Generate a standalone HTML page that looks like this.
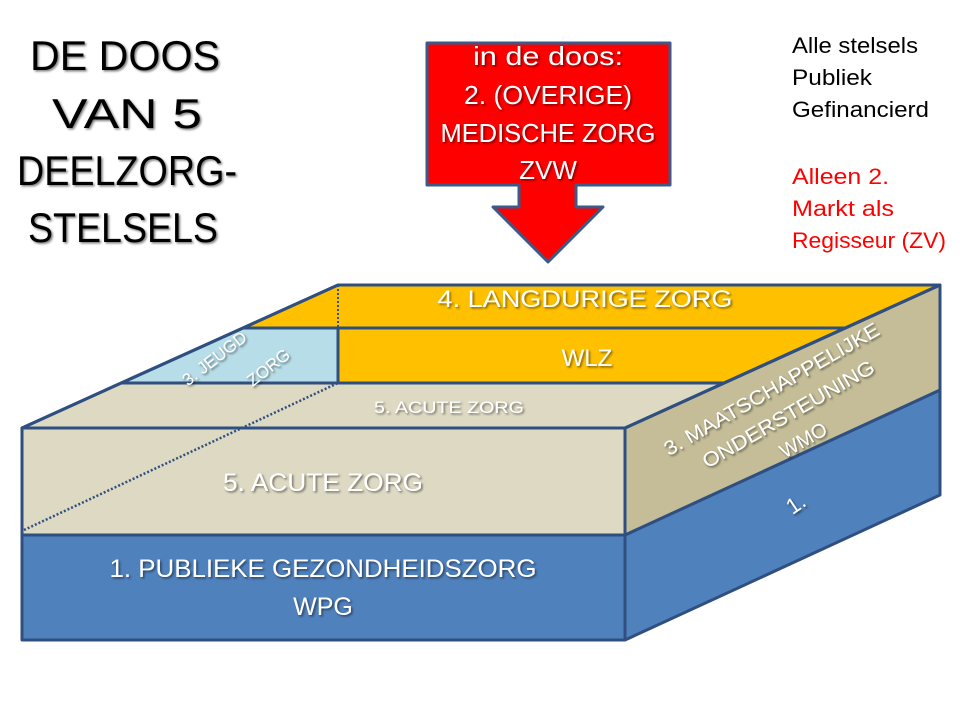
<!DOCTYPE html>
<html><head><meta charset="utf-8"><style>
html,body{margin:0;padding:0;background:#fff;}
svg{display:block;font-family:"Liberation Sans",sans-serif;}
.w{fill:#fff;filter:url(#sh);}
</style></head><body>
<svg width="960" height="720" viewBox="0 0 960 720" xmlns="http://www.w3.org/2000/svg">
<defs>
<filter id="sh" x="-10%" y="-10%" width="120%" height="130%"><feDropShadow dx="1.5" dy="1.5" stdDeviation="1" flood-color="#000" flood-opacity="0.5"/></filter>
</defs>
<g font-size="42" fill="#000" text-anchor="middle" filter="url(#sh)">
<text x="125" y="70" textLength="190" lengthAdjust="spacingAndGlyphs">DE DOOS</text>
<text x="127" y="128" textLength="150" lengthAdjust="spacingAndGlyphs">VAN  5</text>
<text x="127" y="185" textLength="220" lengthAdjust="spacingAndGlyphs">DEELZORG-</text>
<text x="123" y="242" textLength="190" lengthAdjust="spacingAndGlyphs">STELSELS</text>
</g>
<g font-size="22">
<text x="792" y="53" textLength="126" lengthAdjust="spacingAndGlyphs">Alle stelsels</text>
<text x="792" y="85" textLength="80" lengthAdjust="spacingAndGlyphs">Publiek</text>
<text x="792" y="117" textLength="137" lengthAdjust="spacingAndGlyphs">Gefinancierd</text>
<g fill="#f00">
<text x="792" y="184" textLength="97" lengthAdjust="spacingAndGlyphs">Alleen 2.</text>
<text x="792" y="216" textLength="102" lengthAdjust="spacingAndGlyphs">Markt als</text>
<text x="792" y="248" textLength="154" lengthAdjust="spacingAndGlyphs">Regisseur (ZV)</text>
</g></g>
<path d="M427,43 L670,43 L670,185 L576,185 L576,207 L603,207 L548,262 L493,207 L519,207 L519,185 L427,185 Z" fill="#f00" stroke="#3a5a8a" stroke-width="3" stroke-linejoin="round"/>
<g class="w" font-size="26" text-anchor="middle">
<text x="548" y="65" textLength="150" lengthAdjust="spacingAndGlyphs">in de doos:</text>
<text x="548" y="104" textLength="168" lengthAdjust="spacingAndGlyphs">2. (OVERIGE)</text>
<text x="548" y="142" textLength="215" lengthAdjust="spacingAndGlyphs">MEDISCHE ZORG</text>
<text x="548" y="179">ZVW</text>
</g>
<g stroke="#2f4f80" stroke-width="3" stroke-linejoin="round">
<polygon points="625,535 940,390 940,495 625,640" fill="#4f81bd"/>
<polygon points="625,428 940,285 940,390 625,535" fill="#c4bd97"/>
<polygon points="22,428 121,383 724,383 625,428" fill="#ddd9c3"/>
<polygon points="338,285 940,285 724,383 338,383 338,328 243,328" fill="#ffc000"/>
<polygon points="243,328 338,328 338,383 121,383" fill="#b7dde8"/>
<line x1="338" y1="328" x2="845" y2="328"/>
<rect x="22" y="428" width="603" height="107" fill="#ddd9c3"/>
<rect x="22" y="535" width="603" height="105" fill="#4f81bd"/>
<line x1="22" y1="428" x2="338" y2="285"/>
<line x1="625" y1="428" x2="940" y2="285"/>
</g>
<line x1="338" y1="285" x2="338" y2="328" stroke="#2f4f80" stroke-width="2" stroke-dasharray="2,2"/>
<line x1="24" y1="530" x2="338" y2="383" stroke="#2f4f80" stroke-width="2.5" stroke-dasharray="2,2"/>
<g class="w" text-anchor="middle">
<text x="585" y="307" font-size="24" textLength="295" lengthAdjust="spacingAndGlyphs">4. LANGDURIGE  ZORG</text>
<text x="587" y="366" font-size="24">WLZ</text>
<text x="449" y="413" font-size="17" textLength="150" lengthAdjust="spacingAndGlyphs">5. ACUTE ZORG</text>
<text x="323" y="491" font-size="25" textLength="200" lengthAdjust="spacingAndGlyphs">5. ACUTE ZORG</text>
<text x="323" y="577" font-size="25" textLength="427" lengthAdjust="spacingAndGlyphs">1. PUBLIEKE GEZONDHEIDSZORG</text>
<text x="323" y="615" font-size="25">WPG</text>
<g transform="translate(218,363) rotate(-38)"><text x="0" y="0" font-size="17">3. JEUGD</text></g>
<g transform="translate(272,372) rotate(-38)"><text x="0" y="0" font-size="17">ZORG</text></g>
<g transform="translate(775,395) rotate(-30)" font-size="20">
<text x="0" y="0" textLength="245" lengthAdjust="spacingAndGlyphs">3. MAATSCHAPPELIJKE</text>
<text x="2" y="30" textLength="195" lengthAdjust="spacingAndGlyphs">ONDERSTEUNING</text>
<text x="2" y="60">WMO</text>
</g>
<g transform="translate(800,510) rotate(-34)"><text font-size="22">1.</text></g>
</g>
</svg>
</body></html>
